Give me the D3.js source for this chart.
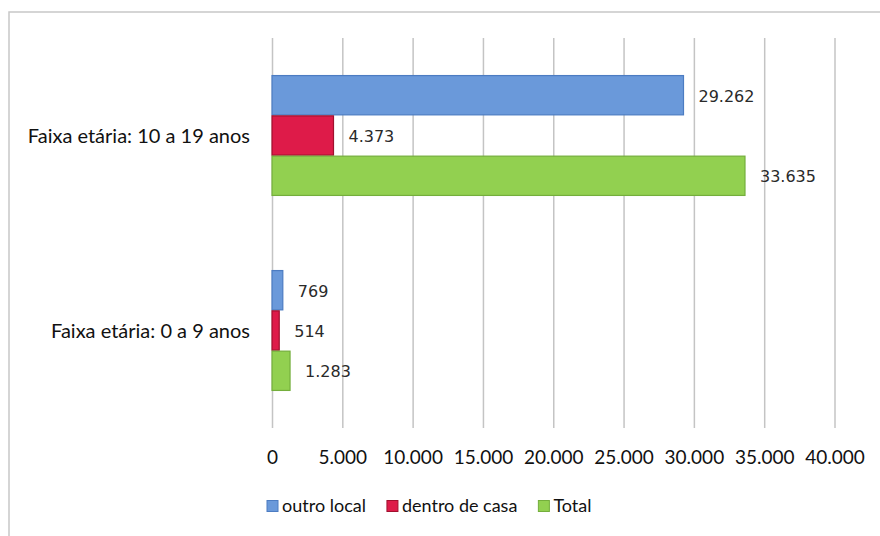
<!DOCTYPE html>
<html>
<head>
<meta charset="utf-8">
<script src="https://cdn.jsdelivr.net/npm/d3@7/dist/d3.min.js"></script>
<style>
  html, body { margin: 0; padding: 0; background: #fff; }
  svg { display: block; }
</style>
</head>
<body>
<svg id="chart" width="880" height="536"></svg>
<script>
// Age groups, listed bottom-to-top as they appear on the chart
const categories = ["Faixa etária: 0 a 9 anos", "Faixa etária: 10 a 19 anos"];
const seriesNames = ["outro local", "dentro de casa", "Total"];
const outroLocal = [769, 29262];
const dentroDeCasa = [514, 4373];
const total = [1283, 33635];
const xTicks = [0, 5000, 10000, 15000, 20000, 25000, 30000, 35000, 40000];

const seriesValues = [outroLocal, dentroDeCasa, total];
const fills = ["#6A99DA", "#DE1B49", "#92D050"];
const strokes = ["#4C7CC2", "#A0102E", "#74AE3C"];

const ptBR = d3.formatLocale({ decimal: ",", thousands: ".", grouping: [3], currency: ["", ""] });
const fmt = ptBR.format(",d");

const svg = d3.select("#chart");

// chart frame
svg.append("rect")
  .attr("x", 9).attr("y", 12).attr("width", 900).attr("height", 600)
  .attr("fill", "none").attr("stroke", "#C8C8C8").attr("stroke-width", 1.5);

const plot = { left: 272, right: 834.5, top: 38, bottom: 428 };

const x = d3.scaleLinear().domain([0, 40000]).range([plot.left, plot.right]);
// top of the chart shows the last category
const y0 = d3.scaleBand().domain(categories.slice().reverse()).range([plot.top, plot.bottom]);
const y1 = d3.scaleBand().domain(seriesNames).range([0, y0.bandwidth()]).paddingInner(0).paddingOuter(0.92);

// vertical gridlines
const grid = svg.append("g").attr("transform", `translate(0,${plot.bottom})`)
  .call(d3.axisBottom(x).tickValues(xTicks).tickSize(-(plot.bottom - plot.top)).tickFormat(fmt));
grid.select(".domain").remove();
grid.selectAll(".tick line").attr("stroke", "#C4C4C4").attr("stroke-width", 1.5);
grid.selectAll(".tick text")
  .attr("y", 457 - plot.bottom).attr("dy", "0.35em")
  .attr("fill", "#111")
  .style("font-family", "Lato, 'Open Sans', sans-serif")
  .style("font-size", "19px");

// bars
const rows = categories.map((c, i) => ({
  cat: c,
  vals: seriesNames.map((s, j) => ({ s, j, v: seriesValues[j][i] }))
}));

const groups = svg.append("g").selectAll("g").data(rows).join("g")
  .attr("transform", d => `translate(0,${y0(d.cat)})`);

groups.selectAll("rect").data(d => d.vals).join("rect")
  .attr("x", x(0))
  .attr("y", d => y1(d.s) + 0.5)
  .attr("width", d => x(d.v) - x(0))
  .attr("height", y1.bandwidth() - 1)
  .attr("fill", d => fills[d.j])
  .attr("stroke", d => strokes[d.j])
  .attr("stroke-width", 1.2);

groups.selectAll("text").data(d => d.vals).join("text")
  .attr("x", d => x(d.v) + 15)
  .attr("y", d => y1(d.s) + y1.bandwidth() / 2 + 1)
  .attr("dy", "0.35em")
  .attr("fill", "#2a2a2a")
  .style("font-family", "'DejaVu Sans', sans-serif")
  .style("font-size", "16px")
  .text(d => fmt(d.v));

// category labels
svg.append("g").selectAll("text").data(categories).join("text")
  .attr("x", 250)
  .attr("y", d => y0(d) + y0.bandwidth() / 2)
  .attr("dy", "0.35em")
  .attr("text-anchor", "end")
  .attr("fill", "#111")
  .style("font-family", "Lato, 'Open Sans', sans-serif")
  .style("font-size", "20px")
  .text(d => d);

// legend
const legend = svg.append("g").attr("transform", "translate(267,506)");
let lx = 0;
seriesNames.forEach((s, j) => {
  const item = legend.append("g").attr("transform", `translate(${lx},0)`);
  item.append("rect")
    .attr("x", 0).attr("y", -5.5).attr("width", 11).attr("height", 11)
    .attr("fill", fills[j]).attr("stroke", strokes[j]).attr("stroke-width", 1);
  const t = item.append("text")
    .attr("x", 15).attr("dy", "0.35em")
    .attr("fill", "#111")
    .style("font-family", "Lato, 'Open Sans', sans-serif")
    .style("font-size", "18px")
    .text(s);
  lx += 15 + t.node().getComputedTextLength() + 21;
});
</script>
</body>
</html>
